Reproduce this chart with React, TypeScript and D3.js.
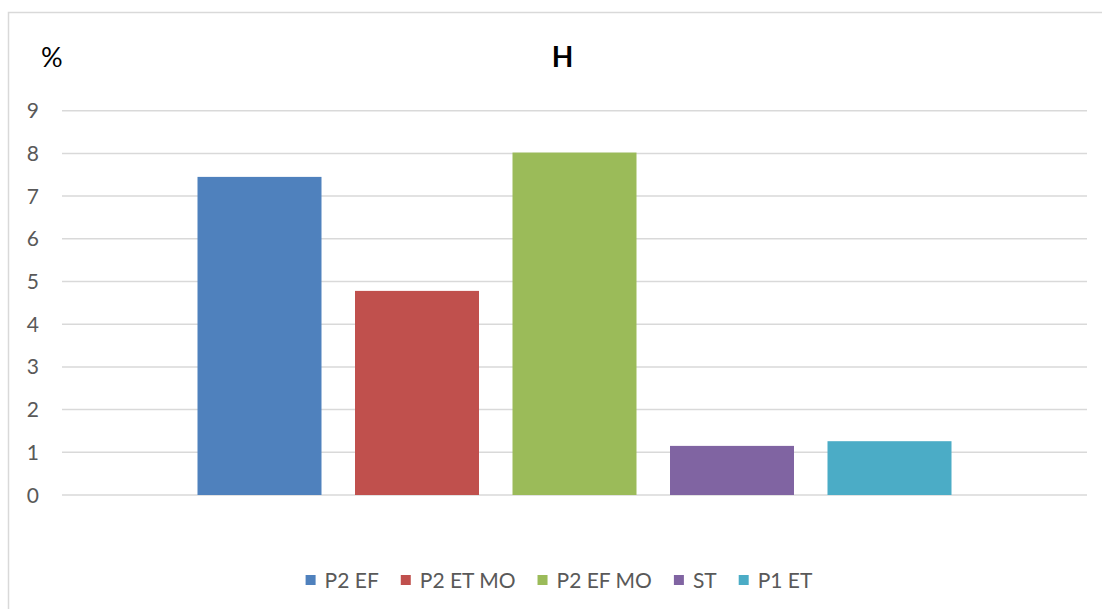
import React, { useEffect, useRef } from "react";
import * as d3 from "d3";

// Series shown as individual bars in the single "H" category
const seriesNames = ["P2 EF", "P2 ET MO", "P2 EF MO", "ST", "P1 ET"];
const seriesValues = [7.45, 4.78, 8.02, 1.15, 1.26];
const seriesColors = ["#4F81BD", "#C0504D", "#9BBB59", "#8064A2", "#4BACC6"];
const yTicks = [0, 1, 2, 3, 4, 5, 6, 7, 8, 9];
const chartTitle = "H";
const unitLabel = "%";

const W = 1102;
const H = 609;
const FONT = "Lato, sans-serif";
const NARROW = "'Liberation Sans Narrow', Lato, sans-serif";

export default function App() {
  const ref = useRef<SVGSVGElement>(null);

  useEffect(() => {
    const svg = d3.select(ref.current);
    svg.selectAll("*").remove();

    // chart frame
    svg
      .append("rect")
      .attr("x", 8.5)
      .attr("y", 12.5)
      .attr("width", 1110)
      .attr("height", 640)
      .attr("fill", "#fff")
      .attr("stroke", "#d9d9d9")
      .attr("stroke-width", 1.5);

    const plotLeft = 62;
    const plotRight = 1087;
    const y = d3.scaleLinear().domain([0, 9]).range([495, 110.7]);

    // gridlines
    svg
      .append("g")
      .selectAll("line")
      .data(yTicks)
      .join("line")
      .attr("x1", plotLeft)
      .attr("x2", plotRight)
      .attr("y1", (d) => y(d))
      .attr("y2", (d) => y(d))
      .attr("stroke", "#d9d9d9")
      .attr("stroke-width", 1.5);

    // tick labels
    svg
      .append("g")
      .selectAll("text")
      .data(yTicks)
      .join("text")
      .attr("x", 39)
      .attr("y", (d) => y(d))
      .attr("dy", "0.36em")
      .attr("text-anchor", "end")
      .attr("font-family", NARROW)
      .attr("font-size", 21)
      .attr("fill", "#595959")
      .text((d) => String(d));

    // bars: one band for the category, series spread inside it
    const outer = 135.5;
    const x = d3
      .scaleBand<string>()
      .domain(seriesNames)
      .range([plotLeft + outer, plotRight - outer])
      .paddingInner(0.2127)
      .paddingOuter(0);

    svg
      .append("g")
      .selectAll("rect")
      .data(seriesNames)
      .join("rect")
      .attr("x", (d) => x(d)!)
      .attr("width", x.bandwidth())
      .attr("y", (_, i) => y(seriesValues[i]))
      .attr("height", (_, i) => y(0) - y(seriesValues[i]))
      .attr("fill", (_, i) => seriesColors[i]);

    // title and unit
    svg
      .append("text")
      .attr("x", 562.5)
      .attr("y", 67)
      .attr("text-anchor", "middle")
      .attr("font-family", FONT)
      .attr("font-weight", "bold")
      .attr("font-size", 28)
      .attr("fill", "#000")
      .text(chartTitle);

    svg
      .append("text")
      .attr("x", 41)
      .attr("y", 67)
      .attr("font-family", FONT)
      .attr("font-size", 27)
      .attr("fill", "#000")
      .text(unitLabel);

    // legend, laid out from measured label widths and centered
    const legend = svg.append("g");
    const items = legend
      .selectAll("g")
      .data(seriesNames)
      .join("g");
    items
      .append("rect")
      .attr("width", 10)
      .attr("height", 10)
      .attr("y", -5)
      .attr("fill", (_, i) => seriesColors[i]);
    items
      .append("text")
      .attr("x", 19)
      .attr("dy", "0.36em")
      .attr("font-family", NARROW)
      .attr("font-size", 21)
      .attr("fill", "#595959")
      .text((d) => d);

    const widths: number[] = [];
    items.each(function () {
      const t = d3.select(this).select("text").node() as SVGTextElement;
      widths.push(19 + t.getComputedTextLength());
    });
    const gap = 22;
    const total = d3.sum(widths) + gap * (widths.length - 1);
    let cx = 559 - total / 2;
    items.attr("transform", (_, i) => {
      const tx = cx;
      cx += widths[i] + gap;
      return `translate(${tx},580)`;
    });
  }, []);

  return (
    <svg
      ref={ref}
      width={W}
      height={H}
      style={{ position: "absolute", left: 0, top: 0, display: "block" }}
    />
  );
}
